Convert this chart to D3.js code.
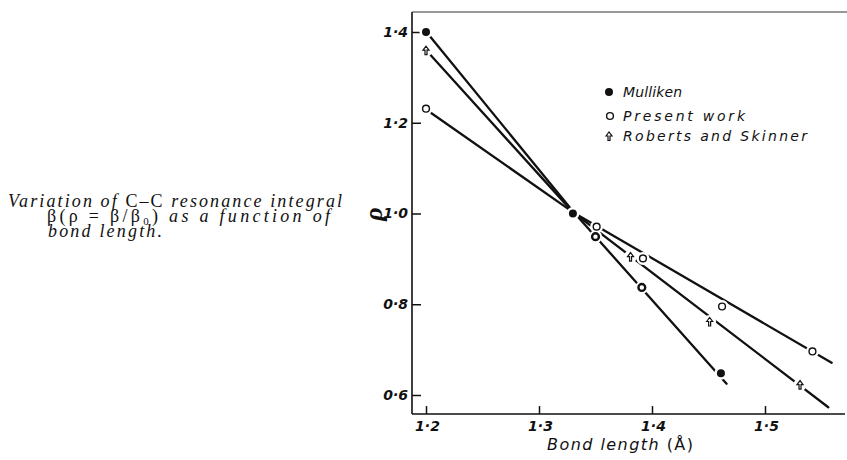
<!DOCTYPE html>
<html>
<head>
<meta charset="utf-8">
<script src="https://cdn.jsdelivr.net/npm/d3@7"></script>
<style>
  html, body { margin: 0; padding: 0; background: #fff; }
  svg { display: block; }
</style>
</head>
<body>
<svg id="chart" width="847" height="460"></svg>
<script>
// ---------- data ----------
const xTicks = [1.2, 1.3, 1.4, 1.5];
const yTicks = [0.6, 0.8, 1.0, 1.2, 1.4];

const seriesNames = ["Mulliken", "Present work", "Roberts and Skinner"];

// measured points (markers)
const mullikenX = [1.200, 1.330, 1.461];
const mullikenY = [1.400, 1.000, 0.648];
const mullikenRingX = [1.350, 1.391];
const mullikenRingY = [0.949, 0.837];
const presentX = [1.200, 1.351, 1.392, 1.462, 1.542];
const presentY = [1.231, 0.971, 0.901, 0.795, 0.696];
const robertsX = [1.200, 1.381, 1.451, 1.531];
const robertsY = [1.360, 0.905, 0.762, 0.623];

// drawn lines
const mullikenLineX = [1.202, 1.330, 1.466];
const mullikenLineY = [1.395, 1.005, 0.625];
const presentLineX = [1.202, 1.330, 1.559];
const presentLineY = [1.226, 1.003, 0.671];
const robertsLineX = [1.202, 1.330, 1.556];
const robertsLineY = [1.355, 1.003, 0.573];

const captionLines = [
  "Variation of C–C resonance integral",
  "β(ρ = β/β₀) as a function of",
  "bond length."
];

// ---------- drawing ----------
const svg = d3.select("#chart");
const ink = "#111";

const x = d3.scaleLinear().domain([1.2, 1.5]).range([426, 765]);
const y = d3.scaleLinear().domain([0.6, 1.4]).range([395, 32]);
const xMin = 1.1876, xMax = 1.5708, yMin = 0.558, yMax = 1.444;

const fmt = d => d3.format(".1f")(d).replace(".", "·");

// frame lines: left axis, bottom axis, top rule
svg.append("line").attr("x1", x(xMin)).attr("x2", x(xMin)).attr("y1", y(yMax)).attr("y2", y(yMin))
  .attr("stroke", ink).attr("stroke-width", 1.6);
svg.append("line").attr("x1", x(xMin)).attr("x2", x(xMax)).attr("y1", y(yMin)).attr("y2", y(yMin))
  .attr("stroke", ink).attr("stroke-width", 1.6);
svg.append("line").attr("x1", x(xMin)).attr("x2", 847).attr("y1", y(yMax)).attr("y2", y(yMax))
  .attr("stroke", "#333").attr("stroke-width", 1.1);

const yAxis = d3.axisLeft(y).tickValues(yTicks).tickSize(-9).tickPadding(4).tickFormat(fmt);
const gy = svg.append("g").attr("transform", `translate(${x(xMin)},0)`).call(yAxis);
gy.select(".domain").remove();
gy.selectAll(".tick line").attr("stroke", ink).attr("stroke-width", 1.5);
gy.selectAll(".tick text").attr("fill", ink)
  .style("font-family", "'DejaVu Sans', sans-serif").style("font-style", "italic")
  .style("font-weight", "bold").style("font-size", "14px");

const xAxis = d3.axisBottom(x).tickValues(xTicks).tickSize(-8).tickPadding(7).tickFormat(fmt);
const gx = svg.append("g").attr("transform", `translate(0,${y(yMin)})`).call(xAxis);
gx.select(".domain").remove();
gx.selectAll(".tick line").attr("stroke", ink).attr("stroke-width", 1.5);
gx.selectAll(".tick text").attr("fill", ink).attr("dx", 1)
  .style("font-family", "'DejaVu Sans', sans-serif").style("font-style", "italic")
  .style("font-weight", "bold").style("font-size", "14px");

// axis titles
svg.append("text").attr("transform", `translate(374,214) rotate(-90)`)
  .attr("text-anchor", "middle").attr("dy", "0.3em")
  .style("font-family", "'Liberation Serif', serif").style("font-style", "italic")
  .style("font-weight", "bold").style("font-size", "26px").attr("fill", ink).text("ρ");

const xt = svg.append("text").attr("x", 547).attr("y", 450)
  .attr("textLength", 146).attr("lengthAdjust", "spacing")
  .style("font-family", "'DejaVu Sans', sans-serif").style("font-size", "16px").attr("fill", ink);
xt.append("tspan").style("font-style", "italic").text("Bond length ");
xt.append("tspan").text("(Å)");

// lines
const line = d3.line().x(d => x(d[0])).y(d => y(d[1])).curve(d3.curveLinear);
const curves = [
  d3.zip(mullikenLineX, mullikenLineY),
  d3.zip(presentLineX, presentLineY),
  d3.zip(robertsLineX, robertsLineY)
];
svg.append("g").selectAll("path").data(curves).join("path")
  .attr("d", line).attr("fill", "none").attr("stroke", ink).attr("stroke-width", 2.3)
  .attr("stroke-linejoin", "round").attr("stroke-linecap", "round");

// halos (gaps where the line stops at each point)
const allPts = [].concat(
  d3.zip(mullikenX, mullikenY), d3.zip(mullikenRingX, mullikenRingY),
  d3.zip(presentX, presentY), d3.zip(robertsX, robertsY));
svg.append("g").selectAll("circle").data(allPts).join("circle")
  .attr("cx", d => x(d[0])).attr("cy", d => y(d[1])).attr("r", 6.5).attr("fill", "#fff");

// markers
const rsPath = "M-3,0 L0,-4 L3,0 L1,0 L1,4.5 L-1,4.5 L-1,0 Z";
function drawFilled(g, px, py) {
  g.append("circle").attr("cx", px).attr("cy", py).attr("r", 4).attr("fill", ink);
}
function drawOpen(g, px, py) {
  g.append("circle").attr("cx", px).attr("cy", py).attr("r", 3.4)
    .attr("fill", "#fff").attr("stroke", ink).attr("stroke-width", 1.4);
}
function drawRing(g, px, py) {
  g.append("circle").attr("cx", px).attr("cy", py).attr("r", 3.4)
    .attr("fill", "#fff").attr("stroke", ink).attr("stroke-width", 2.4);
}
function drawRS(g, px, py) {
  g.append("path").attr("d", rsPath).attr("transform", `translate(${px},${py})`)
    .attr("fill", "#fff").attr("stroke", ink).attr("stroke-width", 1.2);
}
const mk = svg.append("g");
d3.zip(mullikenX, mullikenY).forEach(d => drawFilled(mk, x(d[0]), y(d[1])));
d3.zip(mullikenRingX, mullikenRingY).forEach(d => drawRing(mk, x(d[0]), y(d[1])));
d3.zip(presentX, presentY).forEach(d => drawOpen(mk, x(d[0]), y(d[1])));
d3.zip(robertsX, robertsY).forEach(d => drawRS(mk, x(d[0]), y(d[1])));

// legend
const legendY = [92, 116, 136];
const legendW = [59, 122, 184];
const lg = svg.append("g");
drawFilled(lg, 609, legendY[0]);
drawOpen(lg, 610, legendY[1]);
drawRS(lg, 609, legendY[2]);
seriesNames.forEach((name, i) => {
  lg.append("text").attr("x", 623).attr("y", legendY[i] + 5)
    .attr("textLength", legendW[i]).attr("lengthAdjust", "spacing")
    .style("font-family", "'DejaVu Sans', sans-serif").style("font-style", "italic")
    .style("font-size", "14px").attr("fill", ink).text(name);
});

// caption
const cap = svg.append("g").style("font-family", "'Liberation Serif', serif")
  .style("font-size", "18px").attr("fill", ink);
const c1 = cap.append("text").attr("x", 8).attr("y", 207).attr("textLength", 334).attr("lengthAdjust", "spacing");
c1.append("tspan").style("font-style", "italic").text("Variation of ");
c1.append("tspan").text("C–C ");
c1.append("tspan").style("font-style", "italic").text("resonance integral");
const c2 = cap.append("text").attr("x", 47).attr("y", 222).attr("textLength", 283).attr("lengthAdjust", "spacing");
c2.append("tspan").text("β(ρ = β/β");
c2.append("tspan").attr("dy", 3).style("font-size", "11px").text("0");
c2.append("tspan").attr("dy", -3).text(")");
c2.append("tspan").style("font-style", "italic").text("  as  a  function  of");
cap.append("text").attr("x", 48).attr("y", 237).attr("textLength", 114).attr("lengthAdjust", "spacing")
  .style("font-style", "italic").text(captionLines[2]);
</script>
</body>
</html>
